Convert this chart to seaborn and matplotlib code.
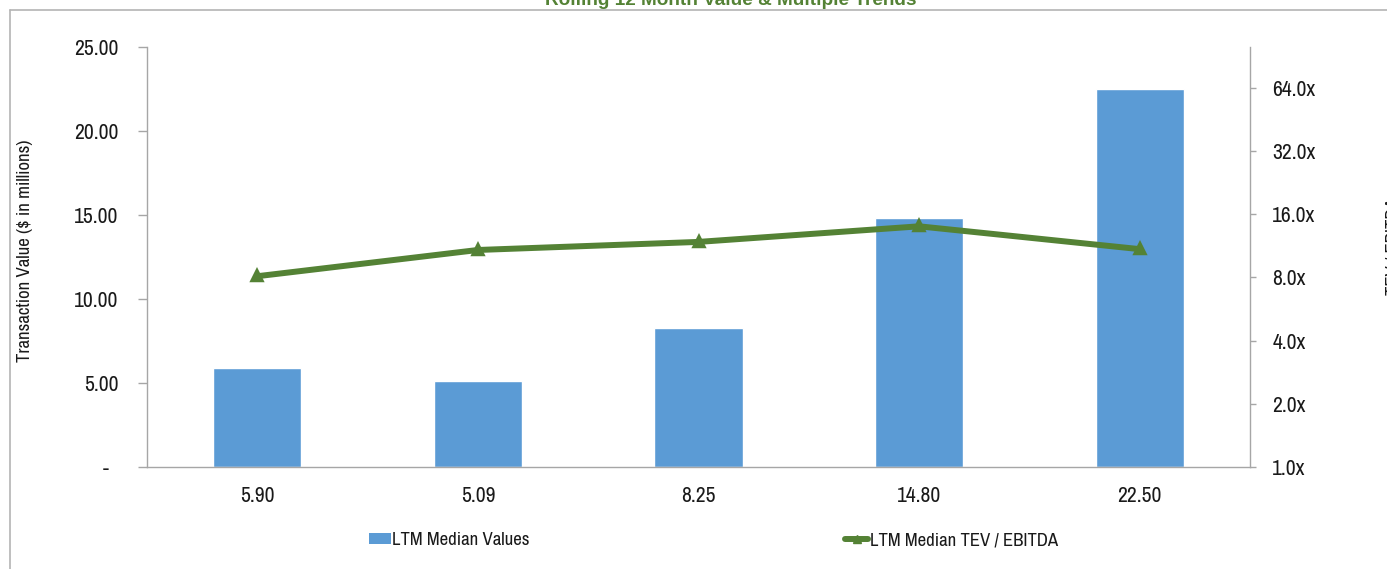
import matplotlib
matplotlib.use("Agg")
import matplotlib.pyplot as plt
import matplotlib.ticker as mticker
from matplotlib.lines import Line2D
from matplotlib.patches import Patch
import seaborn as sns

# LTM median transaction values ($M) and TEV / EBITDA multiples
median_values = [5.90, 5.09, 8.25, 14.80, 22.50]
median_multiples = [8.1, 10.8, 11.8, 14.0, 10.9]
value_ticks = [0, 5, 10, 15, 20, 25]
multiple_ticks = [1, 2, 4, 8, 16, 32, 64]

title = "Rolling 12 Month Value & Multiple Trends"
left_label = "Transaction Value ($ in millions)"
right_label = "TEV / EBITDA"
bar_name = "LTM Median Values"
line_name = "LTM Median TEV / EBITDA"

bar_color = "#5B9BD5"
line_color = "#548235"
axis_gray = "#a6a6a6"
text_color = "#1a1a1a"

sns.set_style("white")
narrow = ["Liberation Sans Narrow", "Archivo Narrow", "Liberation Sans", "DejaVu Sans"]
plt.rcParams["font.family"] = narrow
plt.rcParams["text.color"] = text_color

W, H = 1387, 569
fig = plt.figure(figsize=(W / 100, H / 100), dpi=100)
ax = fig.add_axes([147 / W, 1 - 467 / H, (1250 - 147) / W, (467 - 47) / H])

labels = [f"{v:.2f}" for v in median_values]

sns.barplot(x=labels, y=median_values, ax=ax, color=bar_color, width=0.4,
            saturation=1, errorbar=None)
ax.set_xlim(-0.5, len(labels) - 0.5)
ax.set_ylim(0, 25)
ax.set_yticks(value_ticks)
# accounting-style dash for zero, padded like the other labels
ax.set_yticklabels(["-  " if t == 0 else f"{t:.2f}" for t in value_ticks])
ax.set_xlabel("")
ax.set_ylabel("")

for side in ["top", "right"]:
    ax.spines[side].set_visible(False)
for side in ["left", "bottom"]:
    ax.spines[side].set_color(axis_gray)
    ax.spines[side].set_linewidth(1.0)

tick_size = 15.5
ax.tick_params(axis="y", direction="out", length=6.5, width=1, color=axis_gray,
               pad=14, labelsize=tick_size, labelcolor=text_color)
ax.tick_params(axis="x", which="major", length=0, pad=14, labelsize=tick_size,
               labelcolor=text_color)
ax.set_xticks([i - 0.5 for i in range(len(labels) + 1)], minor=True)
ax.tick_params(axis="x", which="minor", direction="out", length=5, width=1,
               color=axis_gray)

# multiples on a log2 secondary axis
ax2 = ax.twinx()
sns.pointplot(x=labels, y=median_multiples, ax=ax2, color=line_color,
              markers="^", linestyles="-", errorbar=None,
              linewidth=4.3, markersize=5.5)
ax2.set_xlim(-0.5, len(labels) - 0.5)
ax2.set_yscale("log", base=2)
ax2.set_ylim(1, 100)
ax2.yaxis.set_major_locator(mticker.FixedLocator(multiple_ticks))
ax2.yaxis.set_minor_locator(mticker.NullLocator())
ax2.yaxis.set_major_formatter(mticker.FuncFormatter(lambda v, p: f"{v:.1f}x"))
ax2.set_ylabel("")
ax2.set_xlabel("")
for side in ["top", "left", "bottom"]:
    ax2.spines[side].set_visible(False)
ax2.spines["right"].set_color(axis_gray)
ax2.spines["right"].set_linewidth(1.0)
ax2.tick_params(axis="y", direction="out", length=4, width=1, color=axis_gray,
                pad=12, labelsize=tick_size, labelcolor=text_color)

# axis titles
fig.text(25 / W, 1 - 251 / H, left_label, rotation=90, ha="center", va="center",
         fontsize=13.5)
fig.text(1393 / W, 1 - 246 / H, right_label, rotation=90, ha="center", va="center",
         fontsize=13.5)

# chart title, sitting above the chart frame
fig.text(731 / W, 1 - 5 / H, title, ha="center", va="baseline", fontsize=13.7,
         fontweight="bold", color=line_color,
         family=["Liberation Sans", "DejaVu Sans"])

# chart frame
fig.add_artist(Line2D([10 / W, 1.0], [1 - 10 / H, 1 - 10 / H], color="#b4b4b4",
                      linewidth=1.2, transform=fig.transFigure))
fig.add_artist(Line2D([10 / W, 10 / W], [1 - 10 / H, 0.0], color="#b4b4b4",
                      linewidth=1.2, transform=fig.transFigure))

# legend entries
bar_handle = Patch(facecolor=bar_color, edgecolor="none")
line_handle = Line2D([], [], color=line_color, linewidth=4.3, marker="^",
                     markersize=5.5)
leg_size = 13.5
fig.legend([bar_handle], [bar_name], loc="center left",
           bbox_to_anchor=(369 / W, 1 - 540 / H), frameon=False, fontsize=leg_size,
           borderpad=0, borderaxespad=0, handlelength=1.15, handleheight=0.55,
           handletextpad=0.1)
fig.legend([line_handle], [line_name], loc="center left",
           bbox_to_anchor=(845 / W, 1 - 540 / H), frameon=False, fontsize=leg_size,
           borderpad=0, borderaxespad=0, handlelength=1.25, handletextpad=0.1)

fig.savefig("out.png", dpi=100)
